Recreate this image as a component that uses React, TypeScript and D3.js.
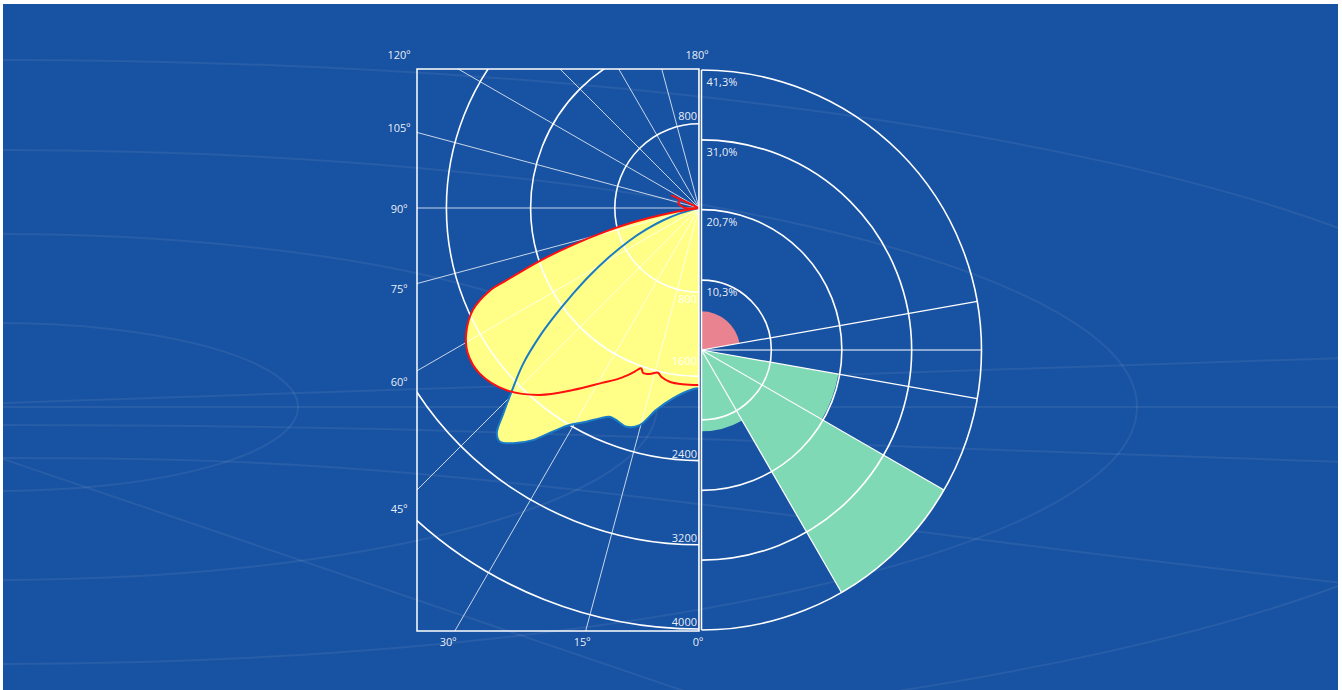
import React from 'react';
import * as d3 from 'd3';

// ---------- DATA ----------
// Luminous intensity curves (angle from nadir in degrees, candela)
const redAngles = [0, 5.3, 9.6, 12.6, 14, 16.6, 18.8, 19.8, 21.9, 25, 29, 34.7, 40.5, 46.6, 53, 57.9, 61.7, 65.7, 68.4, 69.4, 71.6, 73.7, 75.9, 77.5, 78.8, 80.4, 82.3, 88, 90, 97, 103, 112.8, 114.9, 116];
const redValues = [1682, 1682, 1674, 1643, 1613, 1646, 1653, 1619, 1686, 1786, 1900, 2104, 2335, 2519, 2611, 2594, 2512, 2358, 2141, 1956, 1597, 1248, 904, 672, 485, 251, 0, 0, 133, 175, 202, 196, 286, 0];

const blueAngles = [0, 2, 7.8, 12, 15.3, 18.4, 21.3, 23.2, 25.3, 27.8, 30.8, 33.2, 35.6, 38.3, 40.4, 41.9, 43.6, 45.6, 48.5, 51.2, 53.1, 55.8, 58.2, 61, 64.8, 68, 71.1, 74.4, 78.3];
const blueValues = [1713, 1723, 1825, 1962, 2138, 2190, 2163, 2158, 2211, 2296, 2401, 2539, 2712, 2848, 2917, 2877, 2695, 2492, 2228, 1939, 1724, 1444, 1230, 1003, 735, 536, 359, 188, 0];

const cdTicks = [800, 1600, 2400, 3200, 4000];
const cdMax = 4000;
const gridAngles = [0, 15, 30, 45, 60, 75, 90, 105, 120, 135, 150, 165, 180];
const angleLabels = [0, 15, 30, 45, 60, 75, 90, 105, 120, 180];

// Flux distribution by zone (start angle, end angle from zenith, percent)
const zoneStart = [0, 80, 90, 100, 120, 150];
const zoneEnd = [80, 90, 100, 120, 150, 180];
const zoneValues = [5.7, 0, 0, 20.5, 41.3, 12.0];
const pctTicks = [10.3, 20.7, 31.0, 41.3];
const pctMax = 41.3;
const roseGridAngles = [80, 90, 100, 120, 150];

// ---------- STYLE / LAYOUT ----------
const W = 1342;
const H = 690;
const BG = '#1852a2';
const FONT = "'Open Sans', 'DejaVu Sans', sans-serif";
const YELLOW = '#ffff88';
const RED = '#ff1010';
const BLUE_LINE = '#1a7cc6';
const PINK = '#e8838f';
const GREEN = '#80d9b5';

const cx1 = 699, cy1 = 208, R1 = 421;
const box = { x0: 417, y0: 69, x1: 699, y1: 631 };
const cx2 = 701.5, cy2 = 350, R2 = 280;

const rad = (d: number) => (d * Math.PI) / 180;

export default function App() {
  const rCd = d3.scaleLinear().domain([0, cdMax]).range([0, R1]);
  const rPct = d3.scaleLinear().domain([0, pctMax]).range([0, R2]);

  const radial = d3
    .lineRadial<[number, number]>()
    .angle((d) => Math.PI + rad(d[0]))
    .radius((d) => rCd(d[1]))
    .curve(d3.curveCatmullRom.alpha(0.5));

  const redPts: [number, number][] = redAngles.map((a, i) => [a, redValues[i]]);
  const bluePts: [number, number][] = blueAngles.map((a, i) => [a, blueValues[i]]);
  const redFillPts = redPts.filter((p) => p[0] <= 88);

  const redStroke = radial(redPts) || '';
  const redFill = (radial(redFillPts) || '') + 'Z';
  const blueStroke = radial(bluePts) || '';
  const blueFill = blueStroke + 'Z';

  // angle label placement: project along the ray onto an outer frame
  const labelPos = (deg: number) => {
    const s = Math.sin(rad(deg));
    const c = Math.cos(rad(deg));
    const xL = box.x0 - 18;
    const yB = box.y1 + 10;
    const yT = box.y0 - 15;
    if (s < 1e-6 && c < 0) return [cx1 - 2, yT];
    if (deg >= 45) {
      const t = (cx1 - xL) / s;
      return [xL, Math.max(cy1 + t * c, yT)];
    }
    const t = (yB - cy1) / c;
    return [cx1 - t * s - 1, yB];
  };

  const arcGen = d3.arc<any>();
  const ringPath = (r: number) => {
    const p = d3.path();
    p.moveTo(cx2, cy2 - r);
    p.arc(cx2, cy2, r, -Math.PI / 2, Math.PI / 2);
    return p.toString();
  };

  // decorative backdrop
  const ellipses = [
    { a: 298, b: 84 },
    { a: 657, b: 173 },
    { a: 1137, b: 257 },
    { a: 1562, b: 347 },
  ];
  const deco = d3.line().curve(d3.curveNatural);
  const decoLines: [number, number][][] = [
    [[0, 407], [1342, 407]],
    [[0, 403], [1342, 358]],
    [[0, 425], [420, 430], [1000, 450], [1342, 462]],
    [[0, 458], [420, 474], [1000, 542], [1342, 583]],
    [[0, 458], [740, 710]],
  ];

  return (
    <svg
      width={W}
      height={H}
      style={{ position: 'absolute', left: 0, top: 0, fontFamily: FONT }}
    >
      <defs>
        <clipPath id="bgclip">
          <rect x={3} y={4} width={1335} height={686} />
        </clipPath>
        <clipPath id="boxclip">
          <rect x={box.x0} y={box.y0} width={box.x1 - box.x0} height={box.y1 - box.y0} />
        </clipPath>
      </defs>
      <rect x={0} y={0} width={W} height={H} fill="#ffffff" />
      <rect x={3} y={4} width={1335} height={686} fill={BG} />
      <g clipPath="url(#bgclip)" fill="none" stroke="#ffffff" strokeOpacity={0.07} strokeWidth={2}>
        {ellipses.map((e, i) => (
          <ellipse key={i} cx={0} cy={407} rx={e.a} ry={e.b} />
        ))}
        {decoLines.map((l, i) => (
          <path key={'l' + i} d={deco(l) || ''} />
        ))}
      </g>

      {/* ---------- Left: polar intensity diagram ---------- */}
      <g clipPath="url(#boxclip)">
        <g transform={`translate(${cx1},${cy1})`}>
          <path d={blueFill} fill={YELLOW} stroke="none" />
          <path d={redFill} fill={YELLOW} stroke="none" />
        </g>
        {gridAngles.map((a) => (
          <line
            key={a}
            x1={cx1}
            y1={cy1}
            x2={cx1 - 1000 * Math.sin(rad(a))}
            y2={cy1 + 1000 * Math.cos(rad(a))}
            stroke="#ffffff"
            strokeOpacity={0.85}
            strokeWidth={0.9}
          />
        ))}
        {cdTicks.map((v) => (
          <circle key={v} cx={cx1} cy={cy1} r={rCd(v)} fill="none" stroke="#ffffff" strokeWidth={1.6} />
        ))}
        <g transform={`translate(${cx1},${cy1})`} fill="none" strokeLinejoin="round">
          <path d={blueStroke} stroke={BLUE_LINE} strokeWidth={2} />
          <path d={redStroke} stroke={RED} strokeWidth={2} />
        </g>
      </g>
      <rect
        x={box.x0}
        y={box.y0}
        width={box.x1 - box.x0}
        height={box.y1 - box.y0}
        fill="none"
        stroke="#ffffff"
        strokeWidth={1.5}
      />
      {/* cd labels */}
      <g fill="#ffffff" fillOpacity={0.92} fontSize={11} textAnchor="end">
        <text x={cx1 - 2} y={cy1 - rCd(cdTicks[0]) - 4}>{cdTicks[0]}</text>
        {cdTicks.map((v) => (
          <text key={v} x={cx1 - 2} y={cy1 + rCd(v) + (v === 800 ? 11 : v === 1600 ? -11 : -3)}>
            {v}
          </text>
        ))}
      </g>
      {/* angle labels */}
      <g fill="#ffffff" fillOpacity={0.92} fontSize={11} textAnchor="middle">
        {angleLabels.map((a) => {
          const [x, y] = labelPos(a);
          return (
            <text key={a} x={x} y={y} dominantBaseline="central">
              {a + '\u00BA'}
            </text>
          );
        })}
      </g>

      {/* ---------- Right: flux distribution rose ---------- */}
      <g transform={`translate(${cx2},${cy2})`}>
        {zoneValues.map((v, i) =>
          v > 0 ? (
            <path
              key={i}
              d={
                arcGen({
                  innerRadius: 0,
                  outerRadius: rPct(v),
                  startAngle: rad(zoneStart[i]),
                  endAngle: rad(zoneEnd[i]),
                }) || ''
              }
              fill={zoneEnd[i] <= 90 ? PINK : GREEN}
            />
          ) : null
        )}
      </g>
      {pctTicks.map((v) => (
        <path key={v} d={ringPath(rPct(v))} fill="none" stroke="#ffffff" strokeWidth={1.6} />
      ))}
      {roseGridAngles.map((a) => (
        <line
          key={a}
          x1={cx2}
          y1={cy2}
          x2={cx2 + R2 * Math.sin(rad(a))}
          y2={cy2 - R2 * Math.cos(rad(a))}
          stroke="#ffffff"
          strokeWidth={1.2}
        />
      ))}
      <line x1={cx2} y1={cy2 - R2} x2={cx2} y2={cy2 + R2} stroke="#ffffff" strokeWidth={1.5} />
      <g fill="#ffffff" fillOpacity={0.92} fontSize={11}>
        {pctTicks.map((v) => (
          <text key={v} x={cx2 + 5} y={cy2 - rPct(v) + 16}>
            {v.toFixed(1).replace('.', ',') + '%'}
          </text>
        ))}
      </g>
    </svg>
  );
}
